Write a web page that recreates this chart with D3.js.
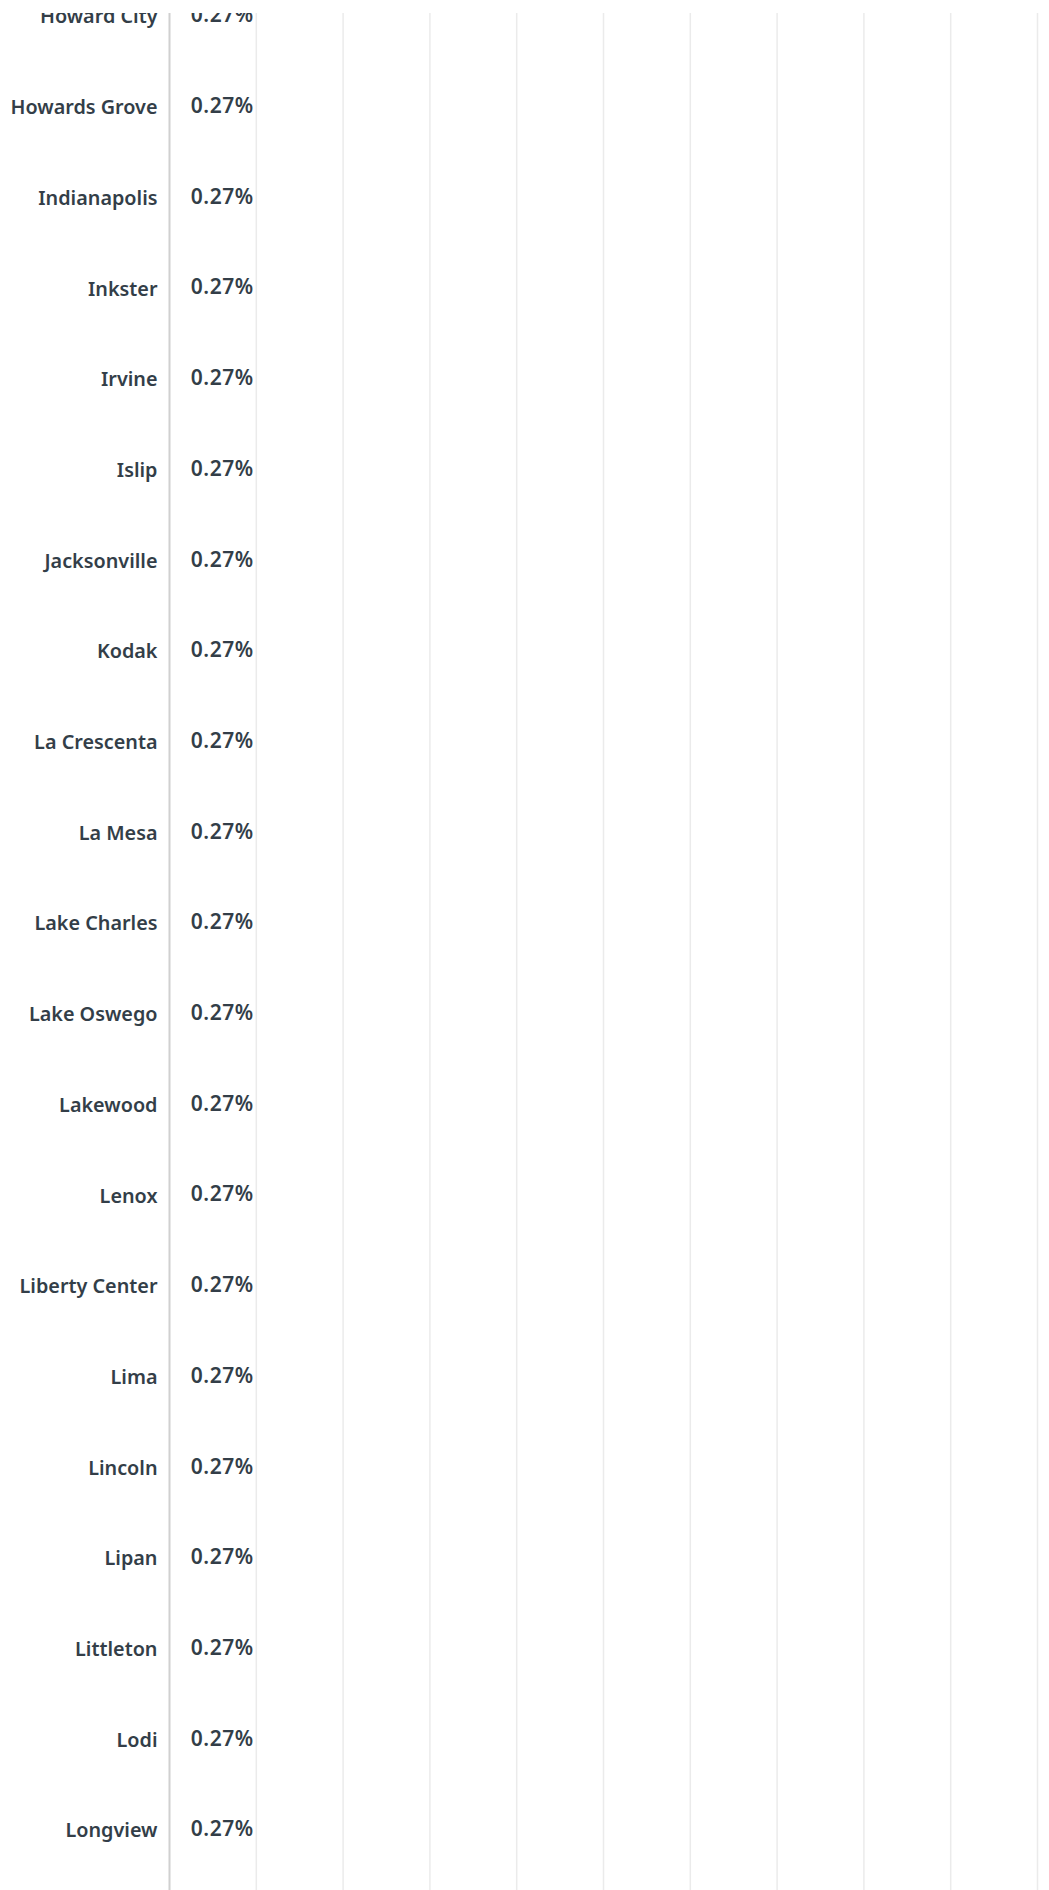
<!DOCTYPE html>
<html>
<head>
<meta charset="utf-8">
<script src="https://cdn.jsdelivr.net/npm/d3@7"></script>
<style>
  html, body { margin: 0; padding: 0; background: #fff; }
  svg { display: block; }
  text { font-family: "Noto Sans", sans-serif; font-weight: 600; fill: #333e48; }
</style>
</head>
<body>
<svg id="bars-plot" width="1049" height="1890"></svg>
<script>
// data
const cities = [
  "Howard City", "Howards Grove", "Indianapolis", "Inkster", "Irvine", "Islip",
  "Jacksonville", "Kodak", "La Crescenta", "La Mesa", "Lake Charles", "Lake Oswego",
  "Lakewood", "Lenox", "Liberty Center", "Lima", "Lincoln", "Lipan", "Littleton",
  "Lodi", "Longview"
];
const shares = [
  0.0027, 0.0027, 0.0027, 0.0027, 0.0027, 0.0027, 0.0027, 0.0027, 0.0027, 0.0027,
  0.0027, 0.0027, 0.0027, 0.0027, 0.0027, 0.0027, 0.0027, 0.0027, 0.0027, 0.0027,
  0.0027
];
const xTicks = [0, 0.1, 0.2, 0.3, 0.4, 0.5, 0.6, 0.7, 0.8, 0.9, 1];

const data = cities.map((c, i) => ({ city: c, value: shares[i] }));

// set svg, plot size and margins
const svg = d3.select("#bars-plot");
const width = +svg.attr("width");
const height = +svg.attr("height");

const clipTop = 13;
const axisX = 169.5;
const plotRight = 1037.5;
const rowStep = 90.7;
const firstRow = 16.5;

svg.append("clipPath")
  .attr("id", "plot-clip")
  .append("rect")
  .attr("x", 0)
  .attr("y", clipTop)
  .attr("width", width)
  .attr("height", height - clipTop);

const g = svg.append("g").attr("clip-path", "url(#plot-clip)");

// scales
const x = d3.scaleLinear().domain([0, 1]).range([axisX, plotRight]);

const y = d3
  .scaleBand()
  .domain(cities)
  .range([firstRow - rowStep / 2, firstRow - rowStep / 2 + rowStep * cities.length])
  .padding(0);

// gridlines
g.append("g")
  .attr("class", "grid")
  .selectAll("line")
  .data(xTicks.slice(1))
  .enter()
  .append("line")
  .attr("x1", (d) => x(d))
  .attr("x2", (d) => x(d))
  .attr("y1", clipTop)
  .attr("y2", height)
  .attr("stroke", "#ebebeb")
  .attr("stroke-width", 1.5);

// bars (too thin to show at this scale)
g.selectAll(".bar")
  .data(data)
  .enter()
  .append("rect")
  .attr("class", "bar")
  .attr("x", x(0))
  .attr("y", (d) => y(d.city) + y.bandwidth() / 2 - 14)
  .attr("width", (d) => x(d.value) - x(0))
  .attr("height", 28)
  .attr("fill", "#ffffff");

// y axis line
g.append("line")
  .attr("x1", x(0))
  .attr("x2", x(0))
  .attr("y1", clipTop)
  .attr("y2", height)
  .attr("stroke", "#d0d0d0")
  .attr("stroke-width", 2);

// city labels
g.selectAll(".city")
  .data(data)
  .enter()
  .append("text")
  .attr("class", "city")
  .attr("x", x(0) - 12)
  .attr("y", (d) => y(d.city) + y.bandwidth() / 2)
  .attr("dy", "0.35em")
  .attr("text-anchor", "end")
  .style("font-size", "19.8px")
  .text((d) => d.city);

// value labels
g.selectAll(".value")
  .data(data)
  .enter()
  .append("text")
  .attr("class", "value")
  .attr("x", (d) => x(d.value) + 19)
  .attr("y", (d) => y(d.city) + y.bandwidth() / 2 - 1.5)
  .attr("dy", "0.35em")
  .style("font-size", "21px")
  .style("letter-spacing", "0.5px")
  .text((d) => d3.format(".2%")(d.value));
</script>
</body>
</html>
